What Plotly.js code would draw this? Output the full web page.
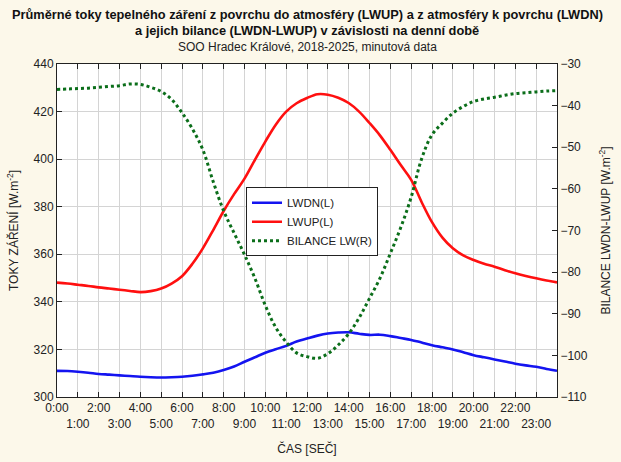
<!DOCTYPE html>
<html>
<head>
<meta charset="utf-8">
<script src="https://cdn.plot.ly/plotly-3.0.1.min.js"></script>
<style>
  html, body { margin: 0; padding: 0; background: #fcf8ea; }
  #plot { width: 621px; height: 462px; }
</style>
</head>
<body>
<div id="plot"></div>
<script>
// time of day in hours (half-hour steps)
var hours = [0, 0.5, 1, 1.5, 2, 2.5, 3, 3.5, 4, 4.5, 5, 5.5, 6, 6.5, 7, 7.5,
  8, 8.5, 9, 9.5, 10, 10.5, 11, 11.5, 12, 12.5, 13, 13.5, 14, 14.5, 15, 15.5,
  16, 16.5, 17, 17.5, 18, 18.5, 19, 19.5, 20, 20.5, 21, 21.5, 22, 22.5, 23, 23.5, 24];

// LWDN - downward longwave [W.m-2]
var lwdn = [311.0, 310.9, 310.6, 310.2, 309.7, 309.4, 309.1, 308.8, 308.5, 308.3,
  308.2, 308.3, 308.5, 308.9, 309.5, 310.2, 311.3, 312.8, 314.8, 316.7, 318.6,
  320.1, 321.5, 323.3, 324.6, 325.8, 326.7, 327.1, 327.2, 326.6, 326.1, 326.2,
  325.6, 324.8, 324.0, 322.9, 321.8, 320.9, 320.0, 318.8, 317.6, 316.7, 315.8,
  314.9, 314.0, 313.3, 312.7, 311.8, 311.0];

// LWUP - upward longwave [W.m-2]
var lwup = [348.1, 347.7, 347.2, 346.7, 346.1, 345.6, 345.1, 344.6, 344.1, 344.5,
  345.6, 347.7, 350.8, 356.0, 362.5, 370.2, 378.2, 385.3, 391.8, 399.7, 407.4,
  414.5, 420.0, 423.5, 425.7, 427.3, 427.1, 425.8, 423.6, 420.0, 415.2, 410.0,
  403.9, 397.5, 391.3, 382.0, 373.5, 367.0, 362.5, 359.5, 357.6, 356.0, 354.8,
  353.3, 352.0, 350.9, 349.9, 349.0, 348.2];

// balance LWDN-LWUP [W.m-2], right axis
var bilance = [-36.1, -36.0, -35.9, -35.8, -35.6, -35.4, -35.2, -34.8, -34.9, -35.6,
  -36.6, -38.5, -41.7, -45.6, -50.6, -58.3, -65.3, -70.6, -75.8, -81.5, -88.0,
  -93.3, -96.8, -99.4, -100.3, -100.7, -99.6, -97.5, -94.8, -91.0, -86.3, -81.5,
  -75.5, -69.3, -62.0, -52.8, -47.0, -44.2, -41.8, -40.2, -39.0, -38.4, -38.0,
  -37.5, -37.1, -36.9, -36.7, -36.5, -36.4];

var tickHours = [0, 1, 2, 3, 4, 5, 6, 7, 8, 9, 10, 11, 12, 13, 14, 15, 16, 17, 18, 19, 20, 21, 22, 23];
var tickLabels = ["0:00", "<br>1:00", "2:00", "<br>3:00", "4:00", "<br>5:00", "6:00", "<br>7:00",
  "8:00", "<br>9:00", "10:00", "<br>11:00", "12:00", "<br>13:00", "14:00", "<br>15:00",
  "16:00", "<br>17:00", "18:00", "<br>19:00", "20:00", "<br>21:00", "22:00", "<br>23:00"];

var font = 'Liberation Sans, Arial, sans-serif';

var trace1 = {
  x: hours, y: lwdn, name: 'LWDN(L)', type: 'scatter', mode: 'lines',
  line: {color: '#1414f0', width: 2.6, shape: 'spline'}
};
var trace2 = {
  x: hours, y: lwup, name: 'LWUP(L)', type: 'scatter', mode: 'lines',
  line: {color: '#ff1010', width: 2.6, shape: 'spline'}
};
var trace3 = {
  x: hours, y: bilance, name: 'BILANCE LW(R)', type: 'scatter', mode: 'lines',
  yaxis: 'y2',
  line: {color: '#0b6e1a', width: 3, dash: 'dot', shape: 'spline'}
};

var axisCommon = {
  showline: true, linecolor: '#222', linewidth: 1,
  ticks: 'inside', ticklen: 5, tickcolor: '#222',
  gridcolor: '#d4d4d4', gridwidth: 1, zeroline: false,
  tickfont: {family: font, size: 12, color: '#222'}
};

var layout = {
  width: 621, height: 462,
  paper_bgcolor: '#fcf8ea',
  plot_bgcolor: '#ffffff',
  margin: {l: 57, r: 64, t: 64, b: 65},
  showlegend: true,
  legend: {
    x: 0.378, y: 0.63, xanchor: 'left', yanchor: 'top',
    bgcolor: '#ffffff', bordercolor: '#222', borderwidth: 1,
    font: {family: font, size: 11.5, color: '#222'},
    tracegroupgap: 0
  },
  xaxis: Object.assign({}, axisCommon, {
    range: [0, 24], tickvals: tickHours, ticktext: tickLabels,
    mirror: 'ticks', tickangle: 0,
    title: {text: 'ČAS [SEČ]', font: {family: font, size: 12, color: '#222'}, standoff: 14}
  }),
  yaxis: Object.assign({}, axisCommon, {
    range: [300, 440], dtick: 20, mirror: true,
    title: {text: 'TOKY ZÁŘENÍ [W.m<sup>-2</sup>]', font: {family: font, size: 12, color: '#222'}, standoff: 12}
  }),
  yaxis2: Object.assign({}, axisCommon, {
    range: [-110, -30], dtick: 10, overlaying: 'y', side: 'right', showgrid: false,
    title: {text: 'BILANCE LWDN-LWUP [W.m<sup>-2</sup>]', font: {family: font, size: 12, color: '#222'}, standoff: 14}
  }),
  annotations: [
    {text: '<b>Průměrné toky tepelného záření z povrchu do atmosféry (LWUP) a z atmosféry k povrchu (LWDN)</b>',
     xref: 'paper', yref: 'paper', x: 0.5, y: 1, xanchor: 'center', yanchor: 'middle',
     yshift: 50, showarrow: false, font: {family: font, size: 12.8, color: '#111'}},
    {text: '<b>a jejich bilance (LWDN-LWUP) v závislosti na denní době</b>',
     xref: 'paper', yref: 'paper', x: 0.5, y: 1, xanchor: 'center', yanchor: 'middle',
     yshift: 34, showarrow: false, font: {family: font, size: 12.8, color: '#111'}},
    {text: 'SOO Hradec Králové, 2018-2025, minutová data',
     xref: 'paper', yref: 'paper', x: 0.5, y: 1, xanchor: 'center', yanchor: 'middle',
     yshift: 17, showarrow: false, font: {family: font, size: 12, color: '#222'}}
  ]
};

Plotly.newPlot('plot', [trace1, trace2, trace3], layout, {displayModeBar: false});
</script>
</body>
</html>
